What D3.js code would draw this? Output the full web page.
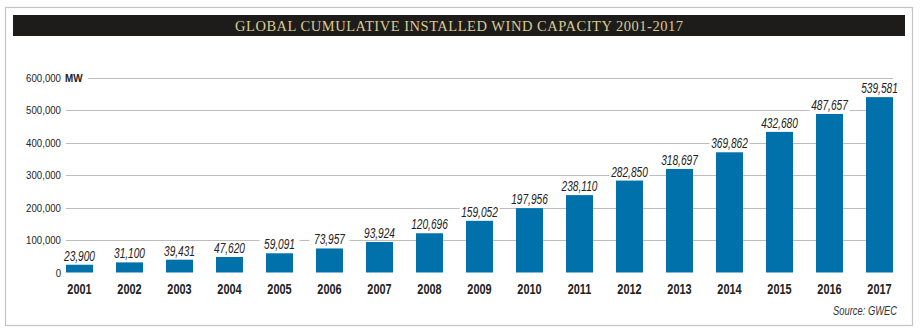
<!DOCTYPE html>
<html>
<head>
<meta charset="utf-8">
<script src="https://cdn.jsdelivr.net/npm/d3@7/dist/d3.min.js"></script>
<style>
  body { margin: 0; background: #fff; }
  svg text { font-family: "Liberation Sans", Arial, sans-serif; }
</style>
</head>
<body>
<svg id="chart" width="921" height="334"></svg>
<script>
var years = ['2001', '2002', '2003', '2004', '2005', '2006', '2007', '2008', '2009',
  '2010', '2011', '2012', '2013', '2014', '2015', '2016', '2017']
var capacity = [23900, 31100, 39431, 47620, 59091, 73957, 93924, 120696, 159052,
  197956, 238110, 282850, 318697, 369862, 432680, 487657, 539581]
var yTicks = [0, 100000, 200000, 300000, 400000, 500000, 600000]
var title = 'GLOBAL CUMULATIVE INSTALLED WIND CAPACITY 2001-2017'
var unit = 'MW'
var source = 'Source: GWEC'

var data = years.map(function(y, i) { return {year: y, value: capacity[i]} })

var svg = d3.select('#chart')
var fmt = d3.format(',')

// squeeze a text horizontally to fake a condensed face
function narrow(sel, s, xf, yf) {
  sel.attr('transform', function(d, i) {
    return 'translate(' + [xf(d, i), yf(d, i)] + ') scale(' + s + ',1)'
  })
}

// frame + title bar
svg.append('rect')
  .attr('x', 5.5).attr('y', 7.5).attr('width', 907).attr('height', 318)
  .attr('fill', 'none').attr('stroke', '#c4c4c4').attr('stroke-width', 1.2)

svg.append('rect')
  .attr('x', 13).attr('y', 15).attr('width', 892).attr('height', 21)
  .attr('fill', '#1d1c1a')

svg.append('text')
  .attr('x', 459).attr('y', 31)
  .attr('text-anchor', 'middle')
  .style('font-family', '"Liberation Serif", "DejaVu Serif", serif')
  .style('font-size', '14.5px')
  .style('fill', '#d9cb94')
  .attr('textLength', 448)
  .text(title)

var x = d3.scaleBand()
  .domain(years)
  .range([66, 893])
  .paddingInner(0.46)
  .paddingOuter(0)

var y = d3.scaleLinear()
  .domain([0, 600000])
  .range([272.5, 77.5])

// gridlines
var grid = svg.append('g')
grid.selectAll('line')
  .data(yTicks.slice(1))
  .enter()
  .append('line')
  .attr('x1', function(d) { return d == 600000 ? 88 : 66 })
  .attr('x2', 893)
  .attr('y1', function(d) { return Math.round(y(d)) + 0.5 })
  .attr('y2', function(d) { return Math.round(y(d)) + 0.5 })
  .attr('stroke', '#bdbdbd')
  .attr('stroke-width', 1)

// y tick labels
svg.append('g').selectAll('text')
  .data(yTicks)
  .enter()
  .append('text')
  .attr('text-anchor', 'end')
  .style('font-size', '11.5px')
  .style('fill', '#222')
  .text(function(d) { return fmt(d) })
  .call(narrow, 0.84, function() { return 61 }, function(d) { return y(d) + 4 })

svg.append('text')
  .style('font-size', '11.5px')
  .style('font-weight', 'bold')
  .style('fill', '#222')
  .text(unit)
  .call(narrow, 0.86, function() { return 65 }, function() { return y(600000) + 4 })

// bars
svg.append('g').selectAll('rect')
  .data(data)
  .enter()
  .append('rect')
  .attr('x', function(d) { return x(d.year) })
  .attr('y', function(d) { return y(d.value) })
  .attr('width', x.bandwidth())
  .attr('height', function(d) { return y(0) - y(d.value) })
  .attr('fill', '#0071aa')

// value labels with white backing so the gridlines break around them
var labels = svg.append('g').selectAll('g')
  .data(data)
  .enter()
  .append('g')
  .attr('transform', function(d) {
    return 'translate(' + [x(d.year) + x.bandwidth() / 2, y(d.value) - 4] + ')'
  })

labels.append('rect')
  .attr('x', -20).attr('y', -12)
  .attr('width', 40).attr('height', 14)
  .attr('fill', '#fff')

labels.append('text')
  .attr('text-anchor', 'middle')
  .style('font-size', '14.5px')
  .style('font-style', 'italic')
  .style('fill', '#222')
  .text(function(d) { return fmt(d.value) })
  .call(narrow, 0.7, function() { return 0 }, function() { return 0 })

// year labels
svg.append('g').selectAll('text')
  .data(years)
  .enter()
  .append('text')
  .attr('text-anchor', 'middle')
  .style('font-size', '14px')
  .style('font-weight', 'bold')
  .style('fill', '#222')
  .text(function(d) { return d })
  .call(narrow, 0.78, function(d) { return x(d) + x.bandwidth() / 2 }, function() { return 294 })

svg.append('text')
  .attr('text-anchor', 'end')
  .style('font-size', '12px')
  .style('font-style', 'italic')
  .style('fill', '#333')
  .text(source)
  .call(narrow, 0.78, function() { return 897 }, function() { return 315 })
</script>
</body>
</html>
